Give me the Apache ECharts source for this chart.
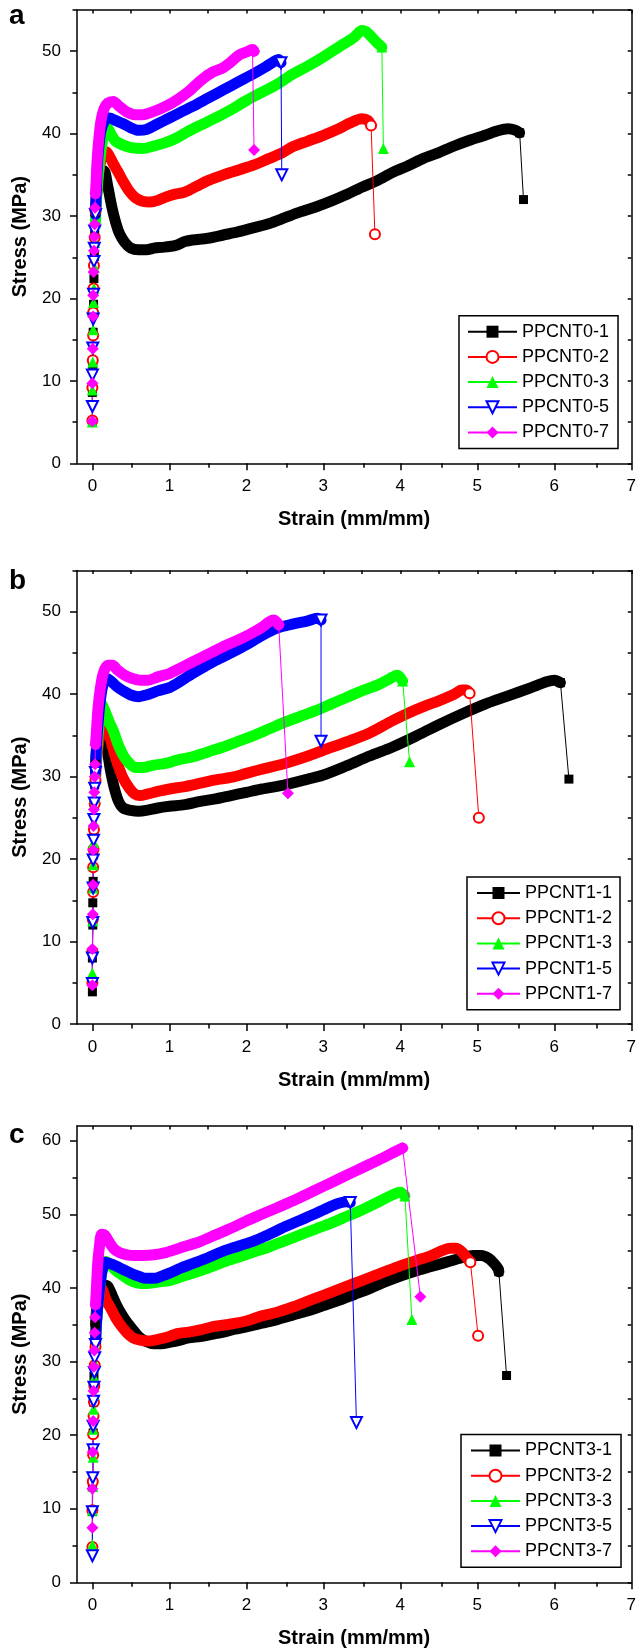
<!DOCTYPE html>
<html>
<head>
<meta charset="utf-8">
<script src="https://cdn.jsdelivr.net/npm/echarts@6/dist/echarts.min.js"></script>
<style>
  html, body { margin: 0; padding: 0; background: #fff; }
  #chart { width: 639px; height: 1652px; }
</style>
</head>
<body>
<div id="chart"></div>
<script>
// ---- axis ticks ----
const xMajorTicks = [0, 1, 2, 3, 4, 5, 6, 7];
const xMinorTicks = [0.5, 1.5, 2.5, 3.5, 4.5, 5.5, 6.5];
const yMajorTicksAB = [0, 10, 20, 30, 40, 50];
const yMinorTicksAB = [5, 15, 25, 35, 45, 55];
const yMajorTicksC = [0, 10, 20, 30, 40, 50, 60];
const yMinorTicksC = [5, 15, 25, 35, 45, 55];

// ---- sample names ----
const namesA = ['PPCNT0-1', 'PPCNT0-2', 'PPCNT0-3', 'PPCNT0-5', 'PPCNT0-7'];
const namesB = ['PPCNT1-1', 'PPCNT1-2', 'PPCNT1-3', 'PPCNT1-5', 'PPCNT1-7'];
const namesC = ['PPCNT3-1', 'PPCNT3-2', 'PPCNT3-3', 'PPCNT3-5', 'PPCNT3-7'];

// ---- panel a: [strain, stress] ----
const curveA1 = [[0,5.1],[0,8.6],[0.005,12],[0.01,15.9],[0.015,19.3],[0.02,22.4],[0.025,25.1],[0.03,27.8],[0.04,30.4],
  [0.06,33],[0.1,34.9],[0.15,35.5],[0.2,33.6],[0.25,31.2],[0.3,29.3],[0.35,27.9],[0.42,26.8],[0.5,26.1],[0.6,25.9],[0.7,25.9],
  [0.8,26.1],[0.9,26.2],[1.0,26.3],[1.1,26.5],[1.2,26.9],[1.3,27.1],[1.5,27.3],[1.7,27.7],[1.9,28.1],[2.1,28.6],[2.3,29.1],
  [2.5,29.8],[2.7,30.5],[2.9,31.1],[3.1,31.8],[3.3,32.6],[3.5,33.5],[3.7,34.3],[3.9,35.3],[4.1,36.1],[4.3,37],[4.5,37.7],
  [4.7,38.5],[4.9,39.2],[5.1,39.8],[5.25,40.3],[5.4,40.6],[5.5,40.4],[5.55,40.1],[5.6,32]];
const curveA2 = [[0,5.2],[0,9.2],[0.005,12.5],[0.01,15.5],[0.01,18.3],[0.015,21.2],[0.02,24],[0.03,27.4],[0.04,30.6],
  [0.06,33.5],[0.09,35.8],[0.13,37.3],[0.18,37.8],[0.23,37.1],[0.28,36.2],[0.33,35.4],[0.4,34.2],[0.48,33],[0.56,32.2],
  [0.65,31.8],[0.75,31.7],[0.85,31.9],[0.95,32.3],[1.05,32.6],[1.2,32.9],[1.35,33.6],[1.5,34.3],[1.7,35],[1.9,35.6],
  [2.1,36.2],[2.3,37],[2.45,37.6],[2.6,38.4],[2.8,39.1],[3.0,39.8],[3.2,40.6],[3.35,41.3],[3.5,41.8],[3.58,41.6],[3.62,41],
  [3.67,27.8]];
const curveA3 = [[0,5],[0,8.9],[0.005,12.3],[0.01,16.2],[0.015,19.5],[0.02,21.2],[0.025,23.8],[0.03,26.8],[0.04,29.2],
  [0.05,31.5],[0.07,34.2],[0.1,37],[0.14,39.5],[0.2,40.6],[0.25,39.8],[0.3,39.1],[0.4,38.6],[0.5,38.3],[0.65,38.2],[0.8,38.5],
  [0.95,38.9],[1.1,39.5],[1.25,40.3],[1.4,41],[1.6,41.9],[1.8,42.9],[2.0,44],[2.2,45],[2.4,46],[2.6,47.2],[2.8,48.2],
  [3.0,49.3],[3.2,50.5],[3.4,51.7],[3.5,52.5],[3.55,52.4],[3.62,51.8],[3.7,51],[3.76,50.5],[3.78,38.2]];
const curveA5 = [[0,6.9],[0,10.7],[0.005,14],[0.01,17.5],[0.015,20.5],[0.02,24.5],[0.025,26.1],[0.03,28.2],[0.04,30.2],
  [0.05,32.7],[0.06,35.3],[0.08,38],[0.11,40.3],[0.16,41.6],[0.22,41.9],[0.3,41.6],[0.4,41.2],[0.5,40.7],[0.6,40.4],
  [0.7,40.5],[0.85,41.2],[1.0,41.9],[1.15,42.6],[1.3,43.3],[1.5,44.3],[1.7,45.3],[1.9,46.3],[2.1,47.3],[2.25,48.1],
  [2.35,48.7],[2.42,49],[2.45,48.6],[2.46,35]];
const curveA7 = [[0,5.1],[0,9.7],[0.005,13.9],[0.01,17.8],[0.01,20.4],[0.015,23.2],[0.02,25.8],[0.025,27.5],[0.03,29],
  [0.035,31],[0.04,32.7],[0.05,34.5],[0.06,36.5],[0.08,39],[0.11,41.5],[0.15,43],[0.2,43.7],[0.27,43.9],[0.35,43.3],
  [0.45,42.6],[0.55,42.3],[0.65,42.3],[0.8,42.7],[0.95,43.3],[1.1,44.1],[1.25,45.1],[1.4,46.4],[1.55,47.4],[1.7,48],
  [1.8,48.7],[1.9,49.5],[2.0,49.9],[2.08,50.2],[2.1,50],[2.1,38]];

// ---- panel b ----
const curveB1 = [[0,3.9],[0,8],[0.005,12],[0.005,14.7],[0.01,17.3],[0.015,20.5],[0.02,23.5],[0.025,26.5],[0.03,29],[0.04,31.5],
  [0.06,33.8],[0.09,35.3],[0.13,35.8],[0.18,34],[0.23,31],[0.28,28.8],[0.34,27],[0.4,26.2],[0.5,25.9],[0.6,25.8],[0.7,25.9],
  [0.85,26.2],[1.0,26.4],[1.2,26.6],[1.4,27],[1.6,27.3],[1.8,27.7],[2.0,28.1],[2.2,28.5],[2.5,29],[2.8,29.7],[3.0,30.2],
  [3.3,31.3],[3.6,32.5],[3.9,33.6],[4.2,34.9],[4.5,36.3],[4.8,37.6],[5.1,38.8],[5.4,39.8],[5.7,40.8],[5.9,41.5],[6.0,41.7],
  [6.08,41.4],[6.19,29.7]];
const curveB2 = [[0,5],[0,8.8],[0.005,12.7],[0.01,16],[0.01,19],[0.015,21.2],[0.02,23.6],[0.03,26.7],[0.04,29.6],
  [0.06,32.5],[0.1,35.2],[0.16,36.5],[0.22,35],[0.28,33],[0.34,31.2],[0.4,29.8],[0.48,28.6],[0.55,27.9],[0.62,27.7],
  [0.72,27.9],[0.85,28.2],[1.0,28.5],[1.2,28.8],[1.4,29.2],[1.6,29.6],[1.8,29.9],[2.0,30.4],[2.2,30.9],[2.5,31.6],
  [2.8,32.5],[3.0,33.2],[3.3,34.2],[3.6,35.3],[3.9,36.8],[4.1,37.7],[4.3,38.5],[4.5,39.2],[4.7,40],[4.8,40.5],[4.86,40.5],
  [4.9,40.1],[5.02,25]];
const curveB3 = [[0,6.2],[0,9],[0.005,12.5],[0.01,16.5],[0.01,19.3],[0.015,22],[0.02,24.5],[0.03,27.5],[0.04,30.5],
  [0.06,33.5],[0.09,36.5],[0.12,38.8],[0.17,37.8],[0.22,36.6],[0.27,35.6],[0.33,34],[0.4,32.6],[0.48,31.6],[0.56,31.1],
  [0.65,31.1],[0.8,31.4],[0.95,31.6],[1.1,32],[1.3,32.4],[1.5,33],[1.7,33.6],[1.9,34.3],[2.1,35],[2.3,35.8],[2.5,36.6],
  [2.7,37.3],[2.9,38],[3.1,38.8],[3.3,39.6],[3.5,40.4],[3.7,41.1],[3.85,41.8],[3.96,42.3],[4.03,41.6],[4.12,31.8]];
const curveB5 = [[0,4.9],[0,8],[0.005,12.3],[0.01,16.5],[0.01,19.9],[0.015,22.3],[0.02,24.8],[0.025,26.8],[0.03,28.6],[0.04,30.5],
  [0.05,33],[0.07,36],[0.1,39],[0.14,41.2],[0.19,41.9],[0.25,41.5],[0.32,40.9],[0.4,40.4],[0.5,39.9],[0.6,39.7],[0.7,39.9],
  [0.85,40.4],[1.0,40.8],[1.15,41.6],[1.3,42.5],[1.45,43.3],[1.6,44.1],[1.8,45],[2.0,46],[2.2,47.1],[2.4,48],[2.6,48.5],
  [2.8,48.9],[2.92,49.2],[2.97,49],[2.97,34.3]];
const curveB7 = [[0,4.7],[0,9.1],[0.005,13.3],[0.01,16.9],[0.01,21.1],[0.015,24],[0.02,26],[0.025,28.1],[0.03,30],[0.035,31.5],
  [0.04,33.9],[0.05,35.1],[0.07,38],[0.1,40.5],[0.14,42.5],[0.2,43.5],[0.26,43.5],[0.33,42.9],[0.42,42.3],[0.52,41.9],
  [0.62,41.7],[0.72,41.7],[0.85,42.1],[1.0,42.5],[1.15,43.2],[1.3,43.9],[1.45,44.6],[1.6,45.3],[1.75,46],[1.9,46.6],
  [2.05,47.3],[2.2,48.1],[2.3,48.8],[2.36,49],[2.42,48.4],[2.54,28]];

// ---- panel c ----
const curveC1 = [[0,9.6],[0,13],[0.005,17.8],[0.01,20.3],[0.015,24.5],[0.02,28],[0.03,31.5],[0.04,35],
  [0.06,37.5],[0.1,39.5],[0.15,40.4],[0.2,40.2],[0.26,38.9],[0.32,37.5],[0.38,36.4],[0.45,35.3],[0.52,34.4],[0.6,33.4],
  [0.7,32.7],[0.8,32.4],[0.9,32.4],[1.0,32.6],[1.1,32.8],[1.25,33.2],[1.4,33.4],[1.55,33.7],[1.7,34],[1.85,34.4],[2.0,34.7],
  [2.2,35.2],[2.4,35.7],[2.6,36.3],[2.8,36.9],[3.0,37.6],[3.2,38.3],[3.4,39.1],[3.6,39.9],[3.8,40.8],[4.0,41.6],[4.2,42.3],
  [4.4,42.9],[4.6,43.5],[4.8,44.1],[4.95,44.4],[5.05,44.4],[5.15,44],[5.22,43.3],[5.27,42.6],[5.28,42.2],[5.38,28.1]];
const curveC2 = [[0,4.8],[0,9.8],[0.005,13.7],[0.01,17.3],[0.01,20.1],[0.015,22.6],[0.02,24.5],[0.025,26.7],[0.03,29.5],[0.04,32],
  [0.05,35],[0.08,38.5],[0.12,39.9],[0.18,38.3],[0.24,37.2],[0.3,36],[0.37,34.9],[0.45,33.9],[0.53,33.2],[0.62,32.9],
  [0.72,32.8],[0.85,33],[1.0,33.4],[1.1,33.8],[1.25,34],[1.4,34.3],[1.6,34.8],[1.8,35.1],[2.0,35.5],[2.2,36.2],[2.4,36.7],
  [2.6,37.4],[2.8,38.2],[3.0,39],[3.2,39.8],[3.4,40.6],[3.6,41.4],[3.8,42.2],[4.0,43],[4.2,43.7],[4.4,44.4],[4.55,45.1],
  [4.65,45.4],[4.72,45.4],[4.8,44.9],[4.87,44],[4.91,43.5],[5.01,33.5]];
const curveC3 = [[0,5.1],[0,9.8],[0.005,13],[0.01,17],[0.01,20.8],[0.015,23.5],[0.02,25.5],[0.025,27.8],[0.03,29.8],[0.04,32],
  [0.05,34.5],[0.07,37.5],[0.1,40.5],[0.13,42.5],[0.17,43.6],[0.22,43.3],[0.3,42.4],[0.38,41.8],[0.48,41.1],[0.58,40.7],
  [0.7,40.6],[0.85,40.8],[1.0,41],[1.15,41.5],[1.3,42],[1.5,42.7],[1.7,43.5],[1.9,44.2],[2.1,44.9],[2.3,45.6],[2.5,46.4],
  [2.7,47.2],[2.9,48],[3.1,48.8],[3.3,49.7],[3.5,50.6],[3.7,51.6],[3.85,52.4],[3.96,52.9],[4.0,53],[4.06,52.5],[4.15,35.7]];
const curveC5 = [[0,3.6],[0,9.6],[0.005,14.2],[0.01,18],[0.01,21.2],[0.015,24.6],[0.02,26.5],[0.025,28.5],[0.03,30.5],[0.04,32.3],
  [0.05,34.7],[0.07,37.5],[0.1,40.5],[0.13,42.5],[0.17,43.5],[0.23,43.3],[0.3,43],[0.4,42.5],[0.5,42],[0.6,41.6],[0.7,41.3],
  [0.8,41.3],[0.9,41.6],[1.0,42],[1.15,42.7],[1.3,43.3],[1.5,44.1],[1.7,45],[1.9,45.7],[2.1,46.4],[2.3,47.3],[2.5,48.3],
  [2.7,49.2],[2.9,50.1],[3.0,50.6],[3.1,51.1],[3.2,51.5],[3.3,51.7],[3.35,51.6],[3.43,21.7]];
const curveC7 = [[0,7.4],[0,12.7],[0.005,17.7],[0.01,21.9],[0.015,26],[0.02,29.3],[0.025,31.5],[0.03,33.9],[0.035,36],[0.04,37.7],
  [0.05,39.5],[0.06,41.6],[0.07,43.5],[0.09,45.5],[0.12,47.3],[0.16,47.2],[0.22,46.2],[0.28,45.3],[0.35,44.8],[0.45,44.5],
  [0.55,44.4],[0.65,44.4],[0.8,44.5],[0.95,44.8],[1.1,45.3],[1.25,45.8],[1.4,46.3],[1.6,47.2],[1.8,48.1],[2.0,49.1],
  [2.2,50],[2.4,50.9],[2.6,51.8],[2.8,52.8],[3.0,53.8],[3.2,54.8],[3.4,55.8],[3.6,56.8],[3.8,57.8],[3.95,58.6],[4.03,59],
  [4.26,38.8]];

const COLORS = ['#000000', '#ff0000', '#00ff00', '#0000ff', '#ff00ff'];
const SYMBOLS = ['rect', 'emptyCircle', 'triangle', 'emptyTriangle', 'diamond'];
const SYMBOL_ROTATE = [0, 0, 0, 180, 0];
const SYMBOL_SIZE = [9, 10, 11, 11, 12];
const FONT = "'Liberation Sans', Arial, sans-serif";

const panels = [
  { letter: 'a', letterTop: 2, names: namesA, curves: [curveA1, curveA2, curveA3, curveA5, curveA7], yMax: 55,
    yMajor: yMajorTicksAB, yMinor: yMinorTicksAB, top: 10, height: 453.3,
    legend: { left: 459, top: 315.7, itemWidth: 49, pad: [7, 9, 7, 8] } },
  { letter: 'b', letterTop: 567, names: namesB, curves: [curveB1, curveB2, curveB3, curveB5, curveB7], yMax: 55,
    yMajor: yMajorTicksAB, yMinor: yMinorTicksAB, top: 570.5, height: 453.5,
    legend: { left: 467, top: 877, itemWidth: 43, pad: [7, 8, 7, 9] } },
  { letter: 'c', letterTop: 1121, names: namesC, curves: [curveC1, curveC2, curveC3, curveC5, curveC7], yMax: 62,
    yMajor: yMajorTicksC, yMinor: yMinorTicksC, top: 1126, height: 456.3,
    legend: { left: 461, top: 1434.5, itemWidth: 49, pad: [7, 9, 7, 9] } }
];

const axisLine = { show: true, onZero: false, lineStyle: { color: '#000', width: 1.5 } };
const noLine = { show: false, onZero: false };
const tickLine = { color: '#000', width: 1.5 };

const grid = [], xAxis = [], yAxis = [], series = [], legend = [], title = [];

panels.forEach((p, k) => {
  const rect = { left: 77, top: p.top, width: 558, height: p.height };
  // second grid on the same spot only carries the short minor ticks
  grid.push(Object.assign({}, rect), Object.assign({}, rect));
  const g = 2 * k;

  xAxis.push({
    type: 'value', gridIndex: g, position: 'bottom', min: -0.2, max: 7,
    axisLine, splitLine: { show: false },
    axisTick: { show: true, customValues: xMajorTicks, length: 7, lineStyle: tickLine },
    axisLabel: { customValues: xMajorTicks, fontSize: 17, color: '#000', margin: 15, fontFamily: FONT },
    name: 'Strain (mm/mm)', nameLocation: 'middle', nameGap: 46,
    nameTextStyle: { fontSize: 20, fontWeight: 'bold', color: '#000', fontFamily: FONT }
  }, {
    type: 'value', gridIndex: g, position: 'top', min: -0.2, max: 7,
    axisLine, splitLine: { show: false }, axisLabel: { show: false },
    axisTick: { show: true, inside: true, customValues: xMajorTicks.concat(xMinorTicks), length: 3.5, lineStyle: tickLine }
  }, {
    type: 'value', gridIndex: g + 1, position: 'bottom', min: -0.2, max: 7,
    axisLine: noLine, splitLine: { show: false }, axisLabel: { show: false },
    axisTick: { show: true, customValues: xMinorTicks, length: 4.5, lineStyle: tickLine }
  });

  yAxis.push({
    type: 'value', gridIndex: g, position: 'left', min: 0, max: p.yMax,
    axisLine, splitLine: { show: false },
    axisTick: { show: true, customValues: p.yMajor, length: 7, lineStyle: tickLine },
    axisLabel: { customValues: p.yMajor, fontSize: 17, color: '#000', margin: 16, fontFamily: FONT },
    name: 'Stress (MPa)', nameLocation: 'middle', nameGap: 47,
    nameTextStyle: { fontSize: 20, fontWeight: 'bold', color: '#000', fontFamily: FONT }
  }, {
    type: 'value', gridIndex: g, position: 'right', min: 0, max: p.yMax,
    axisLine, splitLine: { show: false }, axisLabel: { show: false },
    axisTick: { show: true, inside: true, customValues: p.yMajor.concat(p.yMinor), length: 3.5, lineStyle: tickLine }
  }, {
    type: 'value', gridIndex: g + 1, position: 'left', min: 0, max: p.yMax,
    axisLine: noLine, splitLine: { show: false }, axisLabel: { show: false },
    axisTick: { show: true, customValues: p.yMinor, length: 4.5, lineStyle: tickLine }
  });

  p.curves.forEach((pts, i) => {
    const color = COLORS[i];
    // markers sit apart on the elastic rise; after it they merge into a solid band
    const start = pts.findIndex(pt => pt[0] >= 0.045);
    const last = pts.length - 1;
    series.push({
      type: 'line', name: p.names[i] + ' band', xAxisIndex: 3 * k, yAxisIndex: 3 * k,
      data: pts.slice(start - 1, last), symbol: 'none', smooth: 0.3, silent: true,
      lineStyle: { color, width: 11, cap: 'round', join: 'round' }
    });
    series.push({
      type: 'line', name: p.names[i], xAxisIndex: 3 * k, yAxisIndex: 3 * k,
      data: pts.map((pt, j) => (j < start || j >= last - 1) ? pt : { value: pt, symbol: 'none' }),
      symbol: SYMBOLS[i], symbolSize: SYMBOL_SIZE[i], symbolRotate: SYMBOL_ROTATE[i],
      itemStyle: SYMBOLS[i].startsWith('empty') ? { color, borderWidth: 1.2 } : { color },
      lineStyle: { color, width: 1 }
    });
  });

  legend.push({
    data: p.names, orient: 'vertical', left: p.legend.left, top: p.legend.top,
    padding: p.legend.pad, itemGap: 7.2, itemWidth: p.legend.itemWidth, itemHeight: 15,
    borderColor: '#000', borderWidth: 1.5, backgroundColor: '#fff', selectedMode: false,
    textStyle: { fontSize: 18, lineHeight: 18, color: '#000', fontFamily: FONT }
  });

  title.push({
    text: p.letter, left: 9, top: p.letterTop, padding: 0,
    textStyle: { fontSize: 28, fontWeight: 'bold', color: '#000', fontFamily: FONT }
  });
});

const chart = echarts.init(document.getElementById('chart'), null, { renderer: 'canvas' });
chart.setOption({
  backgroundColor: '#fff',
  animation: false,
  title, grid, xAxis, yAxis, legend, series
});
</script>
</body>
</html>
